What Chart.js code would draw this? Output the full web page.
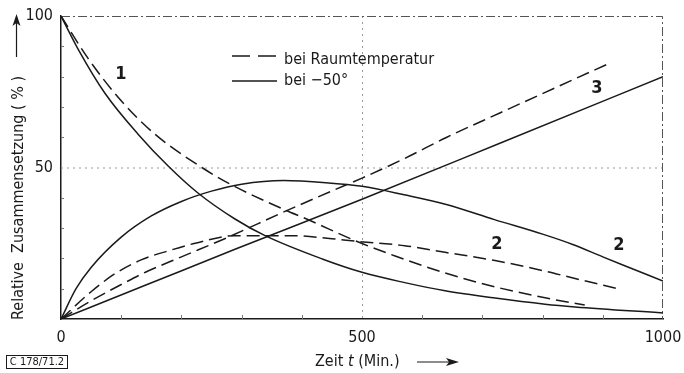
<!DOCTYPE html>
<html>
<head>
<meta charset="utf-8">
<title>Relative Zusammensetzung</title>
<script src="https://cdn.jsdelivr.net/npm/chart.js"></script>
<style>
    html, body { margin: 0; padding: 0; background: #fff; }
    #wrap { width: 684px; height: 373px; }
</style>
</head>
<body>
<div id="wrap"><canvas id="chart"></canvas></div>
<script>
// Werte (Zeit in Min., Anteil in %)
// Kurve 1 - Abnahme
const t1Raum = [0, 45, 100, 156, 234, 284, 372, 408, 493, 555, 638, 721, 804, 870];
const v1Raum = [100, 86, 72, 61, 50, 44.2, 36, 33, 25.5, 20.8, 15.2, 10.6, 7, 4.6];
const t1Kalt = [0, 30, 73, 128, 178, 228, 289, 339, 434, 500, 571, 638, 721, 804, 854, 1000];
const v1Kalt = [100, 88.5, 74.5, 61, 50.5, 41.5, 33, 27.5, 19.8, 15.4, 12, 9.3, 6.9, 4.9, 4, 2];
// Kurve 2 - Zwischenprodukt
const t2Raum = [0, 50, 90, 133, 180, 223, 289, 384, 450, 493, 571, 638, 721, 804, 849, 925];
const v2Raum = [0, 9, 15, 19.5, 22.6, 25, 27.5, 27.5, 26.5, 25.6, 24.2, 22, 19.3, 15.8, 13.6, 10];
const t2Kalt = [0, 25, 50, 100, 150, 200, 250, 300, 370, 440, 500, 570, 640, 720, 800, 850, 900, 950, 1000];
const v2Kalt = [0, 10, 17, 27, 34, 38.8, 42.2, 44.5, 45.7, 45, 43.8, 41, 37.8, 32.8, 28, 24.6, 20.5, 16.5, 12.5];
// Kurve 3 - Endprodukt
const t3Raum = [0, 50, 106, 141, 200, 272, 372, 447, 500, 571, 641, 729, 912];
const v3Raum = [0, 6, 12, 15.5, 20.5, 26.5, 35.5, 42, 46.5, 53, 60, 68, 84.5];
const t3Kalt = [0, 141, 289, 500, 729, 1000];
const v3Kalt = [0, 11.2, 23, 39.5, 58, 80];

const xTicks = [0, 500, 1000];
const yTicks = [50, 100];
const xMinor = [100, 200, 300, 400, 600, 700, 800, 900];
const yMinor = [10, 20, 30, 40, 60, 70, 80, 90];

const legendRaum = 'bei Raumtemperatur';
const legendKalt = 'bei \u221250\u00b0';
const yTitle = 'Relative  Zusammensetzung ( % )';

const INK = '#1a1a1a';
const FONT = "'Liberation Sans Narrow', 'DejaVu Sans Condensed', sans-serif";
const DASH = [13, 6];

function pts(ts, vs) {
    return ts.map((t, i) => ({ x: t, y: vs[i] }));
}

function line(label, ts, vs, dashed) {
    return {
        label: label,
        data: pts(ts, vs),
        borderColor: INK,
        borderWidth: 1.5,
        borderDash: dashed ? DASH : [],
        pointRadius: 0,
        fill: false,
        cubicInterpolationMode: 'monotone'
    };
}

// Gitter und Rahmen (gepunktet) vor den Kurven
const frame = {
    id: 'frame',
    beforeDatasetsDraw(chart) {
        const ctx = chart.ctx;
        const xs = chart.scales.x, ys = chart.scales.y;
        ctx.save();
        ctx.lineWidth = 1;
        ctx.strokeStyle = '#9a9a9a';
        ctx.setLineDash([2, 4]);
        const gx = xs.getPixelForValue(xTicks[1]) + 0.5;
        const gy = ys.getPixelForValue(yTicks[0]) + 0.5;
        ctx.beginPath(); ctx.moveTo(gx, ys.top); ctx.lineTo(gx, ys.bottom); ctx.stroke();
        ctx.beginPath(); ctx.moveTo(xs.left, gy); ctx.lineTo(xs.right, gy); ctx.stroke();

        ctx.strokeStyle = '#555';
        ctx.setLineDash([9, 3, 2, 3]);
        const top = ys.getPixelForValue(yTicks[1]) + 0.5;
        const right = xs.getPixelForValue(xTicks[2]) - 0.5;
        ctx.beginPath(); ctx.moveTo(xs.left, top); ctx.lineTo(right, top); ctx.lineTo(right, ys.bottom); ctx.stroke();
        ctx.restore();
    }
};

// Beschriftungen, Legende, Achsentitel, Bildnummer
const extras = {
    id: 'extras',
    afterDatasetsDraw(chart) {
        const ctx = chart.ctx;
        const xs = chart.scales.x, ys = chart.scales.y;
        ctx.save();

        // kleine Teilstriche innen
        ctx.strokeStyle = '#777';
        ctx.lineWidth = 1;
        xMinor.forEach(v => {
            const px = Math.round(xs.getPixelForValue(v)) + 0.5;
            ctx.beginPath(); ctx.moveTo(px, ys.bottom); ctx.lineTo(px, ys.bottom - 4); ctx.stroke();
        });
        yMinor.forEach(v => {
            const py = Math.round(ys.getPixelForValue(v)) + 0.5;
            ctx.beginPath(); ctx.moveTo(xs.left, py); ctx.lineTo(xs.left + 3, py); ctx.stroke();
        });

        // Legende
        ctx.strokeStyle = INK;
        ctx.lineWidth = 1.5;
        ctx.setLineDash([18, 8]);
        ctx.beginPath(); ctx.moveTo(232, 56); ctx.lineTo(277, 56); ctx.stroke();
        ctx.setLineDash([]);
        ctx.beginPath(); ctx.moveTo(232, 81); ctx.lineTo(277, 81); ctx.stroke();

        ctx.fillStyle = INK;
        ctx.textBaseline = 'middle';
        ctx.textAlign = 'left';
        ctx.font = '16px ' + FONT;
        ctx.fillText(legendRaum, 284, 60);
        ctx.fillText(legendKalt, 284, 81);

        // Kurvennummern
        ctx.font = 'bold 18px ' + FONT;
        ctx.textAlign = 'center';
        ctx.fillText('1', 121, 74);
        ctx.fillText('3', 597, 88);
        ctx.fillText('2', 497, 244);
        ctx.fillText('2', 619, 245);

        // y-Achsentitel mit Pfeil
        ctx.save();
        ctx.translate(19, 320);
        ctx.rotate(-Math.PI / 2);
        ctx.font = '16px ' + FONT;
        ctx.textAlign = 'left';
        ctx.fillText(yTitle, 0, 0);
        ctx.restore();
        ctx.lineWidth = 1.2;
        ctx.beginPath(); ctx.moveTo(16.5, 57); ctx.lineTo(16.5, 22); ctx.stroke();
        ctx.beginPath(); ctx.moveTo(16.5, 14); ctx.lineTo(12.5, 26); ctx.lineTo(16.5, 23); ctx.lineTo(20.5, 26); ctx.closePath(); ctx.fill();

        // x-Achsentitel
        ctx.font = '16px ' + FONT;
        ctx.textAlign = 'left';
        let x = 315;
        const y = 362;
        ctx.fillText('Zeit ', x, y);
        x += ctx.measureText('Zeit ').width;
        ctx.font = 'italic 16px ' + FONT;
        ctx.fillText('t', x, y);
        x += ctx.measureText('t').width;
        ctx.font = '16px ' + FONT;
        ctx.fillText(' (Min.)', x, y);
        ctx.lineWidth = 1.2;
        ctx.beginPath(); ctx.moveTo(417, y); ctx.lineTo(452, y); ctx.stroke();
        ctx.beginPath(); ctx.moveTo(459, y); ctx.lineTo(446, y - 4); ctx.lineTo(449, y); ctx.lineTo(446, y + 4); ctx.closePath(); ctx.fill();

        // Bildnummer
        ctx.font = '11px ' + FONT;
        ctx.strokeStyle = INK;
        ctx.lineWidth = 1;
        ctx.strokeRect(6.5, 355.5, 61, 13);
        ctx.textAlign = 'center';
        ctx.fillText('C 178/71.2', 37, 362.5);

        ctx.restore();
    }
};

new Chart(document.getElementById('chart'), {
    type: 'line',
    data: {
        datasets: [
            line('1 ' + legendRaum, t1Raum, v1Raum, true),
            line('1 ' + legendKalt, t1Kalt, v1Kalt, false),
            line('2 ' + legendRaum, t2Raum, v2Raum, true),
            line('2 ' + legendKalt, t2Kalt, v2Kalt, false),
            line('3 ' + legendRaum, t3Raum, v3Raum, true),
            line('3 ' + legendKalt, t3Kalt, v3Kalt, false)
        ]
    },
    options: {
        responsive: true,
        maintainAspectRatio: false,
        animation: false,
        layout: { padding: { left: 0, right: 21, top: 16, bottom: 0 } },
        plugins: {
            legend: { display: false },
            tooltip: { enabled: false }
        },
        scales: {
            x: {
                type: 'linear',
                min: 0,
                max: 1000,
                afterFit: s => { s.height = 54; s.paddingLeft = 0; s.paddingRight = 0; },
                afterBuildTicks: s => { s.ticks = xTicks.map(v => ({ value: v })); },
                ticks: {
                    color: INK,
                    padding: 9,
                    maxRotation: 0,
                    font: { family: FONT, size: 16 },
                    callback: v => String(v)
                },
                grid: { display: false, drawTicks: false },
                border: { color: INK, width: 1.5 }
            },
            y: {
                type: 'linear',
                min: 0,
                max: 100,
                afterFit: s => { s.width = 61; s.paddingTop = 0; s.paddingBottom = 0; },
                afterBuildTicks: s => { s.ticks = [0].concat(yTicks).map(v => ({ value: v })); },
                ticks: {
                    color: INK,
                    padding: 8,
                    font: { family: FONT, size: 16 },
                    callback: v => (v === 0 ? '' : String(v))
                },
                grid: { display: false, drawTicks: false },
                border: { color: INK, width: 1.5 }
            }
        }
    },
    plugins: [frame, extras]
});
</script>
</body>
</html>
